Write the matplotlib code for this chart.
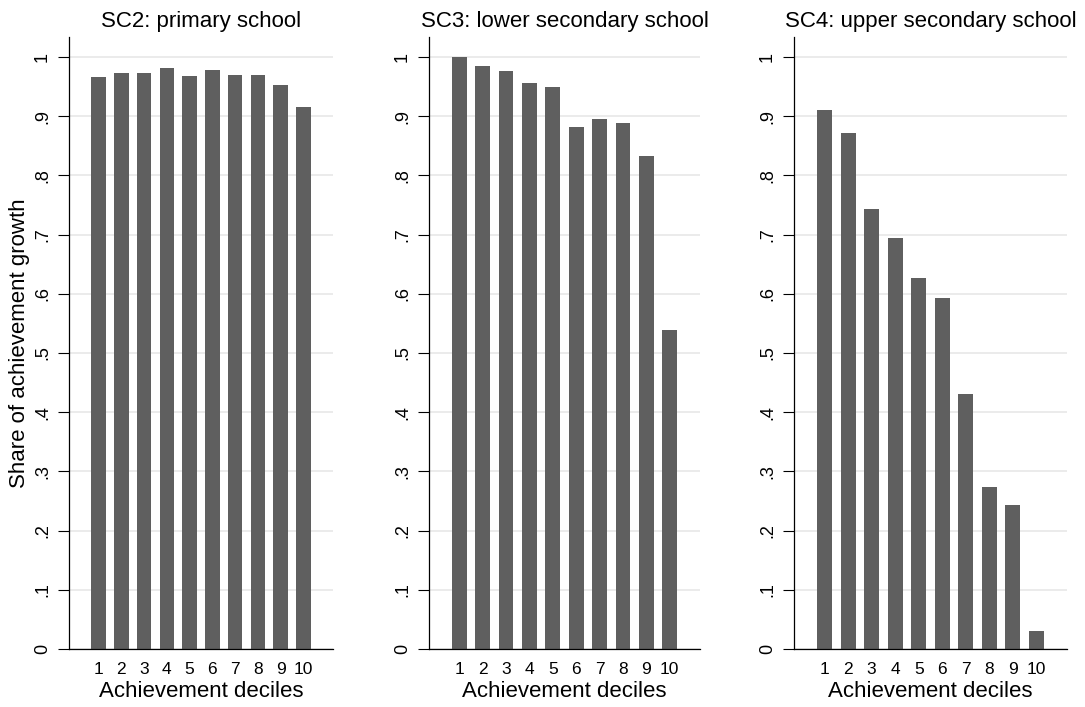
import numpy as np
import matplotlib
matplotlib.use('Agg')
import matplotlib.pyplot as plt

plt.rcParams['font.family'] = ['Liberation Sans', 'DejaVu Sans']

deciles = np.arange(1, 11)
titles = ['SC2: primary school',
          'SC3: lower secondary school',
          'SC4: upper secondary school']

sc2 = [0.967, 0.973, 0.973, 0.982, 0.968, 0.979, 0.970, 0.970, 0.953, 0.916]
sc3 = [1.000, 0.985, 0.977, 0.957, 0.950, 0.882, 0.896, 0.889, 0.833, 0.539]
sc4 = [0.910, 0.872, 0.744, 0.695, 0.627, 0.593, 0.430, 0.274, 0.243, 0.030]

yticks = np.round(np.arange(0, 1.01, 0.1), 1)
ylabels = ['0'] + ['.%d' % i for i in range(1, 10)] + ['1']

BAR_COL = '#5f5f5f'
GRID_COL = '#e8e8e8'

fig = plt.figure(figsize=(10.85, 7.07), dpi=100)

# panel rectangles in figure fractions
W, H = 1085.0, 707.0
bottom = 1 - 649 / H
height = (649 - 37) / H
panels = [(69, 333), (429, 700), (794, 1067)]

for i, (vals, title) in enumerate(zip([sc2, sc3, sc4], titles)):
    x0, x1 = panels[i]
    ax = fig.add_axes([x0 / W, bottom, (x1 - x0) / W, height])
    ax.bar(deciles, vals, width=0.63, color=BAR_COL, zorder=2)
    ax.set_xlim(-0.3, 11.3)
    ax.set_ylim(0, 1.034)
    ax.set_yticks(yticks)
    ax.set_yticklabels(ylabels, rotation=90, va='center', fontsize=13)
    ax.set_xticks(deciles)
    ax.set_xticklabels([str(d) for d in deciles], fontsize=12.5)
    ax.tick_params(axis='x', length=0, pad=9)
    ax.tick_params(axis='y', length=8, width=0.8, pad=5)
    for y in yticks:
        ax.axhline(y, color=GRID_COL, lw=1.2, zorder=1)
    for s in ['top', 'right']:
        ax.spines[s].set_visible(False)
    for s in ['left', 'bottom']:
        ax.spines[s].set_linewidth(0.9)
        ax.spines[s].set_zorder(3)
    ax.set_title(title, fontsize=16, pad=7)
    ax.set_xlabel('Achievement deciles', fontsize=16, labelpad=3)
    if i == 0:
        ax.set_ylabel('Share of achievement growth', fontsize=16, labelpad=3)

fig.savefig('out.png', dpi=100)
